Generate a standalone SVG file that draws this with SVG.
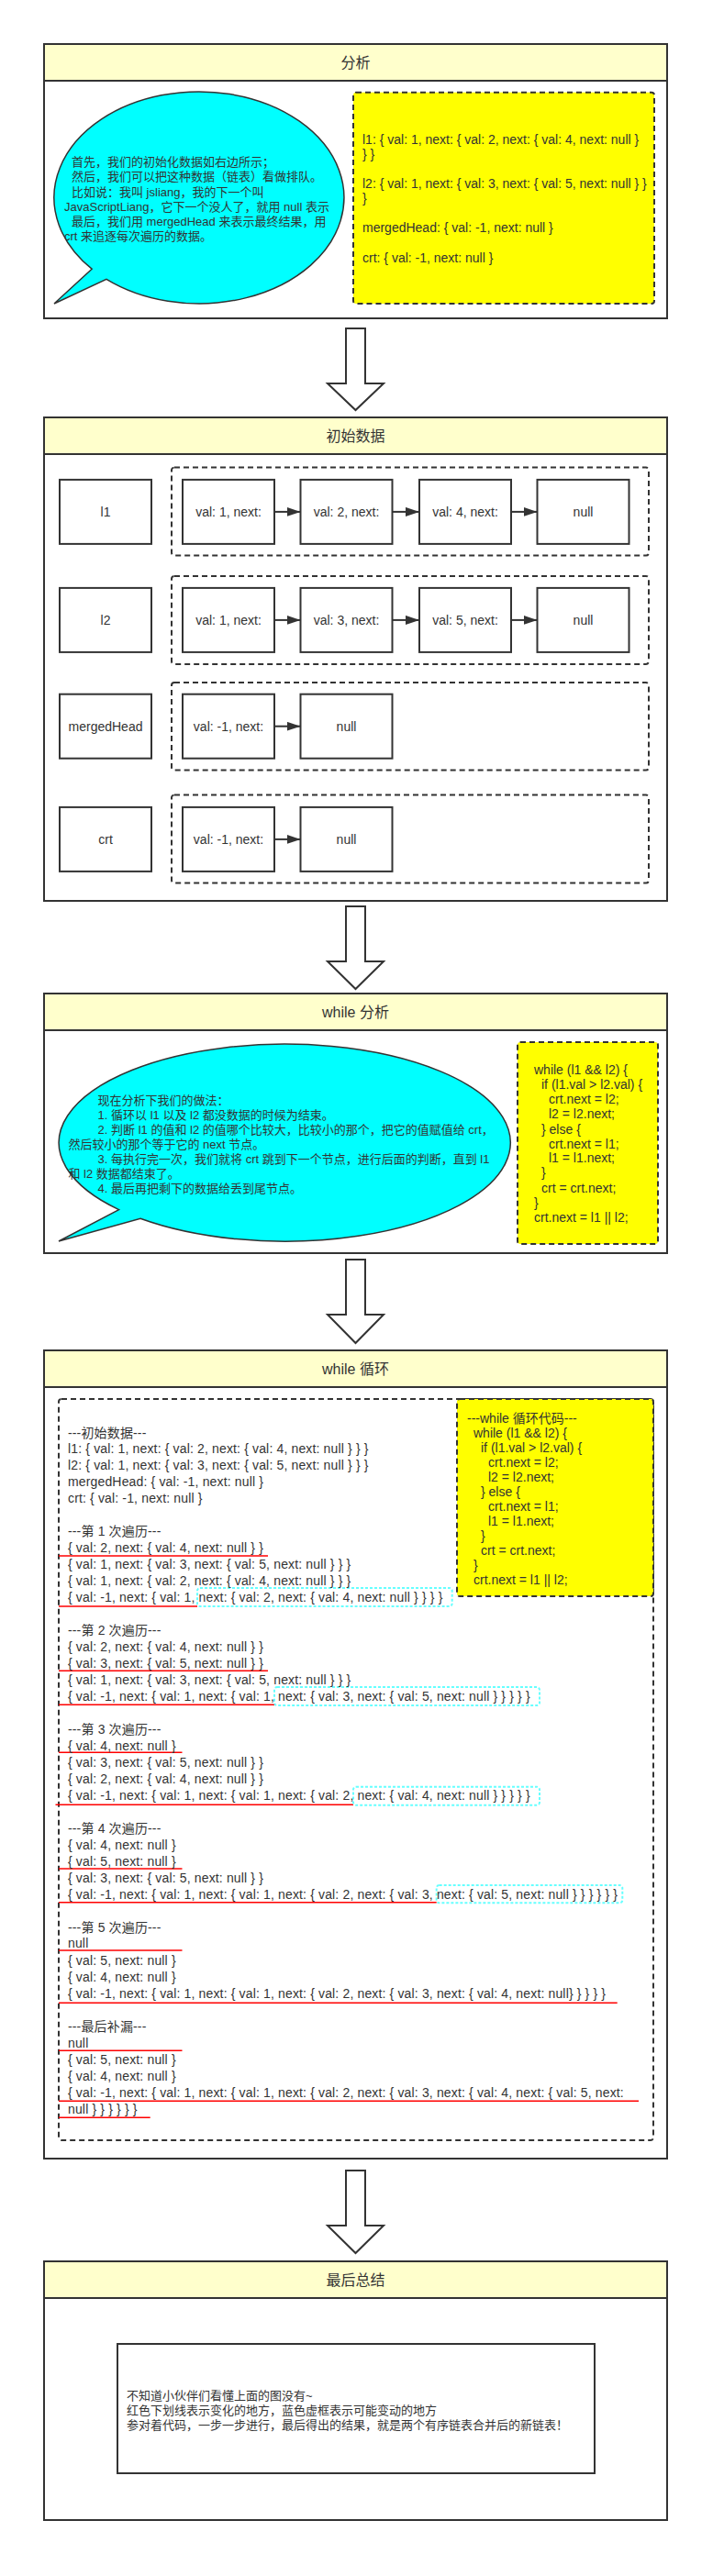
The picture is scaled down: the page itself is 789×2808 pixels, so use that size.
<svg xmlns="http://www.w3.org/2000/svg" width="789" height="2808" viewBox="0 0 789 2808">
<style>
.frame{fill:#fff;stroke:#333;stroke-width:2}
.hdr{fill:#ffffcc;stroke:#333;stroke-width:2}
.box{fill:#fff;stroke:#333;stroke-width:2}
.dash{fill:none;stroke:#333;stroke-width:2;stroke-dasharray:6 4}
.ybox{fill:#ffff00;stroke:#333;stroke-width:2;stroke-dasharray:6 4}
.bubble{fill:#00ffff;stroke:#333;stroke-width:1.5}
.big{fill:#fff;stroke:#333;stroke-width:2}
.conn{stroke:#333;stroke-width:2;fill:none}
.red{stroke:#ff0000;stroke-width:1.5}
.cyan{fill:none;stroke:#66ffff;stroke-width:2;stroke-dasharray:3 2}
.tx{font-family:"Liberation Sans","Noto Sans CJK SC",sans-serif;fill:#333}
.s13{font-size:13px}
.s14{font-size:14px}
.s16{font-size:16px}
.mid{text-anchor:middle}
.ls{letter-spacing:0.15px}
</style>
<defs>
<marker id="arr" markerUnits="userSpaceOnUse" markerWidth="15" markerHeight="10" refX="15" refY="5" orient="auto">
<path d="M0,0 L15,5 L0,10 Z" fill="#333"/>
</marker>
</defs>

<!-- Frame 1: 分析 -->
<g id="frame-analysis">
<rect class="frame" x="48" y="48" width="679" height="299"/>
<rect class="hdr" x="48" y="48" width="679" height="40"/>
<text class="tx s16 mid" x="387.5" y="74">分析</text>
</g>
<g id="bubble-intro">
<path class="bubble" d="M100.1,293.2 L59,331 L116,304.3 A158,115.5 0 1 0 100.1,293.2 Z"/>
<text class="tx s13" x="78" y="181">首先，我们的初始化数据如右边所示；</text>
<text class="tx s13" x="78" y="197">然后，我们可以把这种数据（链表）看做排队。</text>
<text class="tx s13" x="78" y="213.5">比如说：我叫 jsliang，我的下一个叫</text>
<text class="tx s13" x="70" y="229.5">JavaScriptLiang，它下一个没人了，就用 null 表示</text>
<text class="tx s13" x="78" y="245.5">最后，我们用 mergedHead 来表示最终结果，用</text>
<text class="tx s13" x="70" y="261.5">crt 来追逐每次遍历的数据。</text>
</g>
<g id="data-summary">
<rect class="ybox" x="385" y="100.7" width="328" height="230.3" rx="3"/>
<text class="tx s14" x="395" y="157.3">l1: { val: 1, next: { val: 2, next: { val: 4, next: null }</text>
<text class="tx s14" x="395" y="173.3">} }</text>
<text class="tx s14" x="395" y="205">l2: { val: 1, next: { val: 3, next: { val: 5, next: null } }</text>
<text class="tx s14" x="395" y="221">}</text>
<text class="tx s14" x="395" y="253.3">mergedHead: { val: -1, next: null }</text>
<text class="tx s14" x="395" y="285.7">crt: { val: -1, next: null }</text>
</g>

<!-- Frame 2: 初始数据 -->
<g id="frame-init">
<rect class="frame" x="48" y="455" width="679" height="527"/>
<rect class="hdr" x="48" y="455" width="679" height="40"/>
<text class="tx s16 mid" x="387.5" y="481">初始数据</text>
</g>
<g id="row-l1">
<rect class="dash" x="187" y="509.6" width="520" height="96" rx="3"/>
<rect class="box" x="65" y="522.9" width="100" height="70"/>
<text class="tx s14 mid" x="115" y="563">l1</text>
<rect class="box" x="199" y="522.9" width="100" height="70"/>
<text class="tx s14 mid" x="249" y="563">val: 1, next:</text>
<rect class="box" x="327.5" y="522.9" width="100" height="70"/>
<text class="tx s14 mid" x="377.5" y="563">val: 2, next:</text>
<rect class="box" x="457" y="522.9" width="100" height="70"/>
<text class="tx s14 mid" x="507" y="563">val: 4, next:</text>
<rect class="box" x="585.5" y="522.9" width="100" height="70"/>
<text class="tx s14 mid" x="635.5" y="563">null</text>
</g>
<g id="row-l2">
<rect class="dash" x="187" y="627.9" width="520" height="96" rx="3"/>
<rect class="box" x="65" y="640.9" width="100" height="70"/>
<text class="tx s14 mid" x="115" y="681">l2</text>
<rect class="box" x="199" y="640.9" width="100" height="70"/>
<text class="tx s14 mid" x="249" y="681">val: 1, next:</text>
<rect class="box" x="327.5" y="640.9" width="100" height="70"/>
<text class="tx s14 mid" x="377.5" y="681">val: 3, next:</text>
<rect class="box" x="457" y="640.9" width="100" height="70"/>
<text class="tx s14 mid" x="507" y="681">val: 5, next:</text>
<rect class="box" x="585.5" y="640.9" width="100" height="70"/>
<text class="tx s14 mid" x="635.5" y="681">null</text>
</g>
<g id="row-mergedHead">
<rect class="dash" x="187" y="744.1" width="520" height="95.5" rx="3"/>
<rect class="box" x="65" y="756.7" width="100" height="70"/>
<text class="tx s14 mid" x="115" y="796.7">mergedHead</text>
<rect class="box" x="199" y="756.7" width="100" height="70"/>
<text class="tx s14 mid" x="249" y="796.7">val: -1, next:</text>
<rect class="box" x="327.5" y="756.7" width="100" height="70"/>
<text class="tx s14 mid" x="377.5" y="796.7">null</text>
</g>
<g id="row-crt">
<rect class="dash" x="187" y="866.6" width="520" height="96" rx="3"/>
<rect class="box" x="65" y="879.9" width="100" height="70"/>
<text class="tx s14 mid" x="115" y="920">crt</text>
<rect class="box" x="199" y="879.9" width="100" height="70"/>
<text class="tx s14 mid" x="249" y="920">val: -1, next:</text>
<rect class="box" x="327.5" y="879.9" width="100" height="70"/>
<text class="tx s14 mid" x="377.5" y="920">null</text>
</g>

<!-- Frame 3: while 分析 -->
<g id="frame-while-analysis">
<rect class="frame" x="48" y="1083" width="679" height="283"/>
<rect class="hdr" x="48" y="1083" width="679" height="40"/>
<text class="tx s16 mid" x="387.5" y="1109">while 分析</text>
</g>
<g id="bubble-approach">
<path class="bubble" d="M129.6,1318.6 L64,1353 L153,1328.3 A246,107.5 0 1 0 129.6,1318.6 Z"/>
<text class="tx s13" x="106.6" y="1204">现在分析下我们的做法：</text>
<text class="tx s13" x="106.6" y="1220">1. 循环以 l1 以及 l2 都没数据的时候为结束。</text>
<text class="tx s13" x="106.6" y="1235.7">2. 判断 l1 的值和 l2 的值哪个比较大，比较小的那个，把它的值赋值给 crt，</text>
<text class="tx s13" x="74.4" y="1251.7">然后较小的那个等于它的 next 节点。</text>
<text class="tx s13" x="106.6" y="1267.7">3. 每执行完一次，我们就将 crt 跳到下一个节点，进行后面的判断，直到 l1</text>
<text class="tx s13" x="74.4" y="1283.7">和 l2 数据都结束了。</text>
<text class="tx s13" x="106.6" y="1299.7">4. 最后再把剩下的数据给丢到尾节点。</text>
</g>
<g id="code-while">
<rect class="ybox" x="564" y="1136" width="153" height="220" rx="3"/>
<text class="tx s14" x="582" y="1171">while (l1 &amp;&amp; l2) {</text>
<text class="tx s14" x="590" y="1187.3">if (l1.val &gt; l2.val) {</text>
<text class="tx s14" x="598" y="1203.3">crt.next = l2;</text>
<text class="tx s14" x="598" y="1219.3">l2 = l2.next;</text>
<text class="tx s14" x="590" y="1235.7">} else {</text>
<text class="tx s14" x="598" y="1251.7">crt.next = l1;</text>
<text class="tx s14" x="598" y="1267.3">l1 = l1.next;</text>
<text class="tx s14" x="590" y="1283.3">}</text>
<text class="tx s14" x="590" y="1299.7">crt = crt.next;</text>
<text class="tx s14" x="582" y="1315.7">}</text>
<text class="tx s14" x="582" y="1331.7">crt.next = l1 || l2;</text>
</g>

<!-- Frame 4: while 循环 -->
<g id="frame-while-loop">
<rect class="frame" x="48" y="1472" width="679" height="881"/>
<rect class="hdr" x="48" y="1472" width="679" height="40"/>
<text class="tx s16 mid" x="387.5" y="1498">while 循环</text>
</g>
<g id="trace">
<rect class="dash" x="64" y="1525" width="648" height="808" rx="3"/>
<g class="red">
<line x1="64" y1="1696" x2="292" y2="1696"/>
<line x1="64" y1="1751" x2="215" y2="1751"/>
<line x1="64" y1="1821.3" x2="292" y2="1821.3"/>
<line x1="64" y1="1858.3" x2="299" y2="1858.3"/>
<line x1="64" y1="1910.3" x2="198.5" y2="1910.3"/>
<line x1="60.5" y1="1967.3" x2="385" y2="1967.3"/>
<line x1="64" y1="2037" x2="198.5" y2="2037"/>
<line x1="64" y1="2073.8" x2="475.7" y2="2073.8"/>
<line x1="64" y1="2126" x2="198.5" y2="2126"/>
<line x1="64" y1="2183.3" x2="672.7" y2="2183.3"/>
<line x1="64" y1="2235.3" x2="198.5" y2="2235.3"/>
<line x1="64" y1="2290.3" x2="696" y2="2290.3"/>
<line x1="64" y1="2308.3" x2="163.7" y2="2308.3"/>
</g>
<rect class="cyan" x="215" y="1731" width="277.7" height="20" rx="3"/>
<rect class="cyan" x="299" y="1839" width="289" height="20" rx="3"/>
<rect class="cyan" x="385" y="1947.7" width="203" height="20" rx="3"/>
<rect class="cyan" x="475.7" y="2055" width="202.6" height="19.3" rx="3"/>
<g class="tx s14 ls">
<text x="74" y="1566.7">---初始数据---</text>
<text x="74" y="1584.3">l1: { val: 1, next: { val: 2, next: { val: 4, next: null } } }</text>
<text x="74" y="1602.3">l2: { val: 1, next: { val: 3, next: { val: 5, next: null } } }</text>
<text x="74" y="1620.3">mergedHead: { val: -1, next: null }</text>
<text x="74" y="1638.3">crt: { val: -1, next: null }</text>
<text x="74" y="1674">---第 1 次遍历---</text>
<text x="74" y="1691.7">{ val: 2, next: { val: 4, next: null } }</text>
<text x="74" y="1709.7">{ val: 1, next: { val: 3, next: { val: 5, next: null } } }</text>
<text x="74" y="1727.7">{ val: 1, next: { val: 2, next: { val: 4, next: null } } }</text>
<text x="74" y="1746">{ val: -1, next: { val: 1, next: { val: 2, next: { val: 4, next: null } } } }</text>
<text x="74" y="1782.3">---第 2 次遍历---</text>
<text x="74" y="1800">{ val: 2, next: { val: 4, next: null } }</text>
<text x="74" y="1818.3">{ val: 3, next: { val: 5, next: null } }</text>
<text x="74" y="1836">{ val: 1, next: { val: 3, next: { val: 5, next: null } } }</text>
<text x="74" y="1854">{ val: -1, next: { val: 1, next: { val: 1, next: { val: 3, next: { val: 5, next: null } } } } }</text>
<text x="74" y="1890.3">---第 3 次遍历---</text>
<text x="74" y="1908.3">{ val: 4, next: null }</text>
<text x="74" y="1926.3">{ val: 3, next: { val: 5, next: null } }</text>
<text x="74" y="1944.3">{ val: 2, next: { val: 4, next: null } }</text>
<text x="74" y="1962.3">{ val: -1, next: { val: 1, next: { val: 1, next: { val: 2, next: { val: 4, next: null } } } } }</text>
<text x="74" y="1998.3">---第 4 次遍历---</text>
<text x="74" y="2016">{ val: 4, next: null }</text>
<text x="74" y="2034">{ val: 5, next: null }</text>
<text x="74" y="2051.7">{ val: 3, next: { val: 5, next: null } }</text>
<text x="74" y="2070">{ val: -1, next: { val: 1, next: { val: 1, next: { val: 2, next: { val: 3, next: { val: 5, next: null } } } } } }</text>
<text x="74" y="2106">---第 5 次遍历---</text>
<text x="74" y="2123.3">null</text>
<text x="74" y="2141.7">{ val: 5, next: null }</text>
<text x="74" y="2160">{ val: 4, next: null }</text>
<text x="74" y="2178">{ val: -1, next: { val: 1, next: { val: 1, next: { val: 2, next: { val: 3, next: { val: 4, next: null} } } } }</text>
<text x="74" y="2214">---最后补漏---</text>
<text x="74" y="2232">null</text>
<text x="74" y="2250">{ val: 5, next: null }</text>
<text x="74" y="2268">{ val: 4, next: null }</text>
<text x="74" y="2286">{ val: -1, next: { val: 1, next: { val: 1, next: { val: 2, next: { val: 3, next: { val: 4, next: { val: 5, next:</text>
<text x="74" y="2304">null } } } } } }</text>
</g>
</g>
<g id="code-loop">
<rect class="ybox" x="498" y="1525" width="214" height="215" rx="3"/>
<text class="tx s14" x="509" y="1551">---while 循环代码---</text>
<text class="tx s14" x="516" y="1567">while (l1 &amp;&amp; l2) {</text>
<text class="tx s14" x="524" y="1583">if (l1.val &gt; l2.val) {</text>
<text class="tx s14" x="532" y="1599">crt.next = l2;</text>
<text class="tx s14" x="532" y="1615">l2 = l2.next;</text>
<text class="tx s14" x="524" y="1631">} else {</text>
<text class="tx s14" x="532" y="1647">crt.next = l1;</text>
<text class="tx s14" x="532" y="1663">l1 = l1.next;</text>
<text class="tx s14" x="524" y="1679">}</text>
<text class="tx s14" x="524" y="1695">crt = crt.next;</text>
<text class="tx s14" x="516" y="1711">}</text>
<text class="tx s14" x="516" y="1727">crt.next = l1 || l2;</text>
</g>

<!-- Frame 5: 最后总结 -->
<g id="frame-summary">
<rect class="frame" x="48" y="2465" width="679" height="282"/>
<rect class="hdr" x="48" y="2465" width="679" height="40"/>
<text class="tx s16 mid" x="387.5" y="2491">最后总结</text>
</g>
<g id="summary-note">
<rect class="box" x="128" y="2555" width="520" height="141"/>
<text class="tx s13" x="138" y="2615.7">不知道小伙伴们看懂上面的图没有~</text>
<text class="tx s13" x="138" y="2631.7">红色下划线表示变化的地方，蓝色虚框表示可能变动的地方</text>
<text class="tx s13" x="138" y="2647.7">参对着代码，一步一步进行，最后得出的结果，就是两个有序链表合并后的新链表！</text>
</g>

<!-- Connectors -->
<g id="connectors">
<line class="conn" x1="299" y1="557.9" x2="327.5" y2="557.9" marker-end="url(#arr)"/>
<line class="conn" x1="427.5" y1="557.9" x2="457" y2="557.9" marker-end="url(#arr)"/>
<line class="conn" x1="557" y1="557.9" x2="585.5" y2="557.9" marker-end="url(#arr)"/>
<line class="conn" x1="299" y1="675.9" x2="327.5" y2="675.9" marker-end="url(#arr)"/>
<line class="conn" x1="427.5" y1="675.9" x2="457" y2="675.9" marker-end="url(#arr)"/>
<line class="conn" x1="557" y1="675.9" x2="585.5" y2="675.9" marker-end="url(#arr)"/>
<line class="conn" x1="299" y1="791.7" x2="327.5" y2="791.7" marker-end="url(#arr)"/>
<line class="conn" x1="299" y1="914.9" x2="327.5" y2="914.9" marker-end="url(#arr)"/>
<path class="big" d="M377,358 H398 V418 H418 L387.5,447 L357,418 H377 Z"/>
<path class="big" d="M377,988 H398 V1048 H418 L387.5,1078 L357,1048 H377 Z"/>
<path class="big" d="M377,1373 H398 V1433 H418 L387.5,1464 L357,1433 H377 Z"/>
<path class="big" d="M377,2366 H398 V2426 H418 L387.5,2456 L357,2426 H377 Z"/>
</g>
</svg>
